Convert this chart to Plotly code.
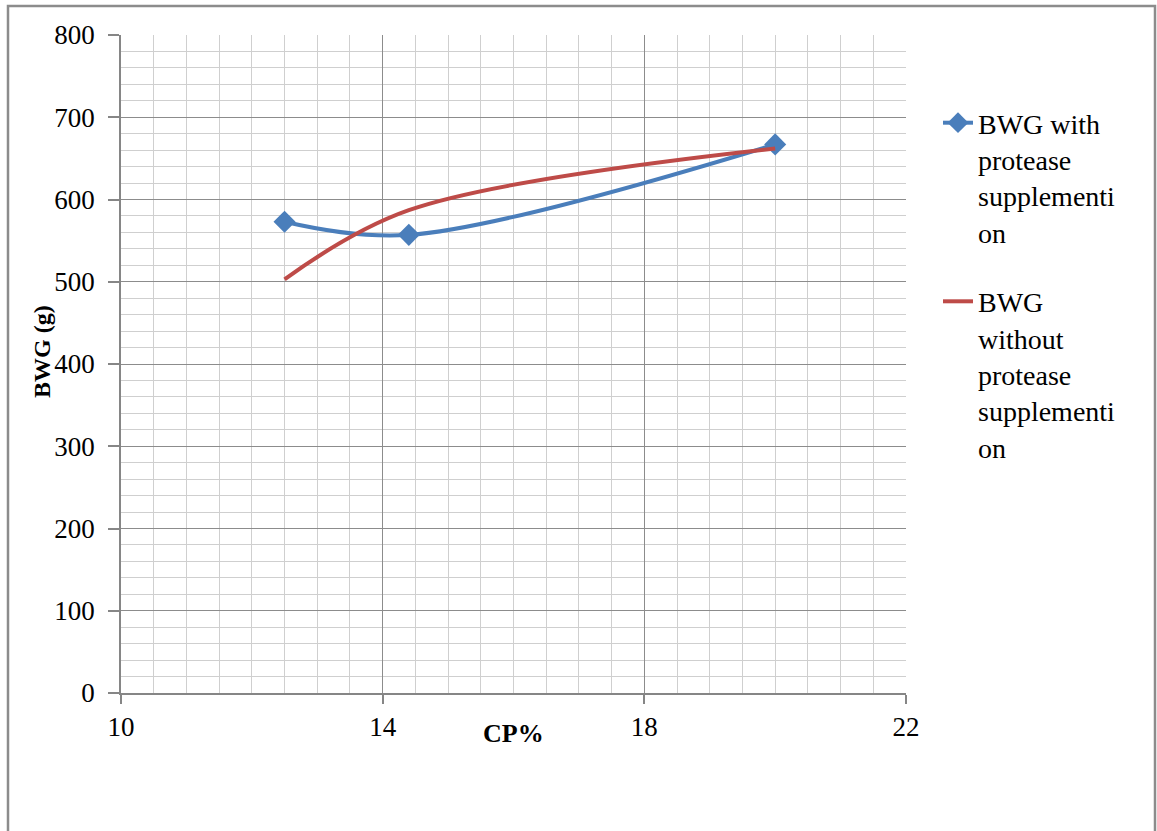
import plotly.graph_objects as go

cp = [12.5, 14.4, 20]
bwg_with = [573, 557, 667]
bwg_without = [503, 587, 662]
name_with = "BWG with<br>protease<br>supplementi<br>on"
name_without = "BWG<br>without<br>protease<br>supplementi<br>on"
x_ticks = [10, 14, 18, 22]
y_ticks = [0, 100, 200, 300, 400, 500, 600, 700, 800]

W, H = 1157, 831
L, R, T, B = 121, 251, 35, 138
pw, ph = W - L - R, H - T - B

def px(x):
    return (x - L) / pw

def py(y):
    return (H - B - y) / ph

fig = go.Figure()
fig.add_trace(go.Scatter(
    x=cp, y=bwg_with, name=name_with, mode="lines+markers",
    line=dict(color="#4A7EBB", width=4, shape="spline"),
    marker=dict(symbol="diamond", size=17, color="#4A7EBB"),
    legendgroup="a",
))
fig.add_trace(go.Scatter(
    x=cp, y=bwg_without, name=name_without, mode="lines",
    line=dict(color="#BE4B48", width=4, shape="spline"),
    legendgroup="b",
))

font_family = "Liberation Serif"
fig.update_layout(
    width=W, height=H,
    margin=dict(l=L, r=R, t=T, b=B, pad=0),
    paper_bgcolor="white", plot_bgcolor="white",
    font=dict(family=font_family, size=27, color="black"),
    showlegend=True,
    legend=dict(x=px(938), y=py(98), xanchor="left", yanchor="top",
                font=dict(family=font_family, size=28, color="black"),
                valign="top", tracegroupgap=30, bgcolor="rgba(0,0,0,0)"),
    xaxis=dict(range=[10, 22], tickvals=x_ticks, ticks="outside", ticklen=9,
               tickcolor="#868686", tickwidth=1.5, showline=True, linecolor="#868686",
               linewidth=1.5, showgrid=True, gridcolor="#8c8c8c", gridwidth=1.2,
               zeroline=False, tickfont=dict(family=font_family, size=27),
               minor=dict(dtick=0.5, showgrid=True, gridcolor="#cfcfcf", gridwidth=1.2)),
    yaxis=dict(range=[0, 800], tickvals=y_ticks, ticks="outside", ticklen=11,
               tickcolor="#868686", tickwidth=1.5, showline=True, linecolor="#868686",
               linewidth=1.5, showgrid=True, gridcolor="#8c8c8c", gridwidth=1.2,
               zeroline=False, tickfont=dict(family=font_family, size=27), ticklabelstandoff=8,
               minor=dict(dtick=20, showgrid=True, gridcolor="#cfcfcf", gridwidth=1.2)),
    annotations=[
        dict(text="<b>CP%</b>", x=0.5, y=py(750), xref="paper", yref="paper",
             showarrow=False, font=dict(family=font_family, size=26)),
        dict(text="<b>BWG (g)</b>", x=px(27), y=py(352), xref="paper", yref="paper",
             showarrow=False, textangle=-90, font=dict(family=font_family, size=24)),
    ],
    shapes=[
        dict(type="rect", xref="paper", yref="paper",
             x0=px(8), x1=px(1155), y0=py(860), y1=py(6),
             line=dict(color="#8c8c8c", width=2.5), layer="below"),
    ],
)

fig.write_html("out.html")
